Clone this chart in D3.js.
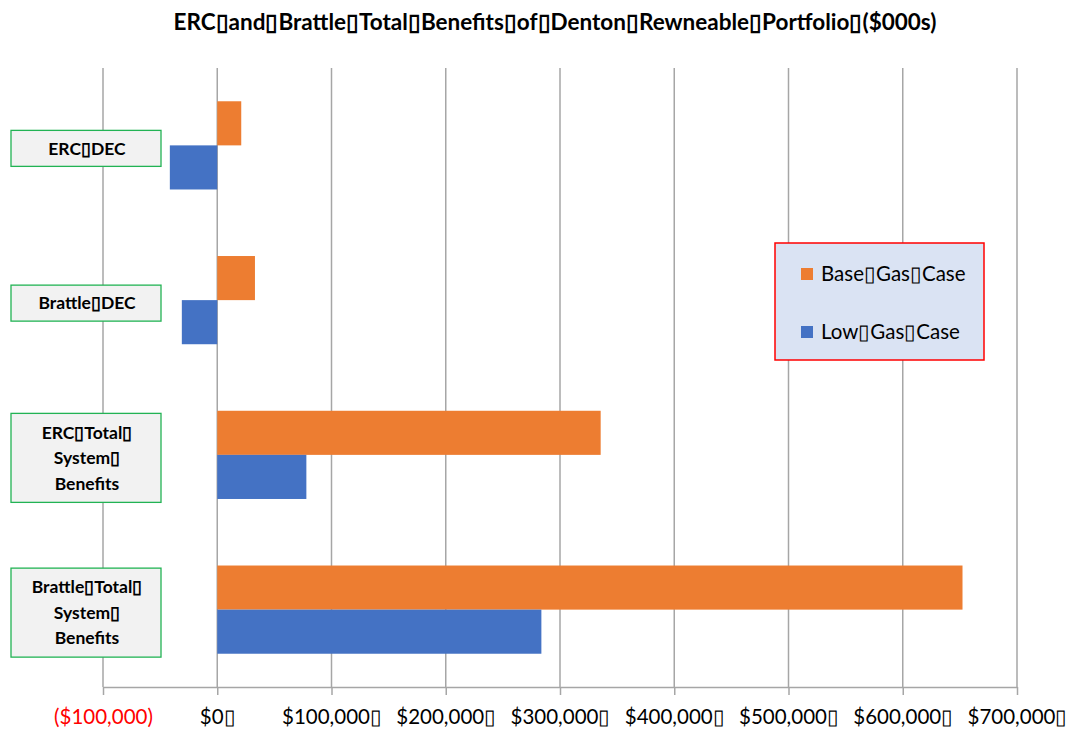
<!DOCTYPE html>
<html>
<head>
<meta charset="utf-8">
<script src="https://cdn.jsdelivr.net/npm/d3@7"></script>
<style>
  body { margin: 0; background: #fff; }
  svg { font-family: Lato, "Open Sans", sans-serif; }
</style>
</head>
<body>
<svg width="1075" height="731"></svg>
<script>
const B = "\u25AF"; // missing-glyph box seen in the original text

// categories, top to bottom (each label split into its lines)
const categories = ["ERC DEC", "Brattle DEC", "ERC Total", "Brattle Total"];
const categoryLines = [
  ["ERC" + B + "DEC"],
  ["Brattle" + B + "DEC"],
  ["ERC" + B + "Total" + B, "System" + B, "Benefits"],
  ["Brattle" + B + "Total" + B, "System" + B, "Benefits"]
];
const series = ["Base", "Low"];
const seriesNames = ["Base" + B + "Gas" + B + "Case", "Low" + B + "Gas" + B + "Case"];
const baseGas = [21000, 33000, 335600, 652300];
const lowGas = [-41500, -31000, 78000, 283700];
const tickValues = [-100000, 0, 100000, 200000, 300000, 400000, 500000, 600000, 700000];
const tickLabels = ["($100,000)", "$0" + B, "$100,000" + B, "$200,000" + B, "$300,000" + B,
  "$400,000" + B, "$500,000" + B, "$600,000" + B, "$700,000" + B];
const title = "ERC" + B + "and" + B + "Brattle" + B + "Total" + B + "Benefits" + B + "of" + B +
  "Denton" + B + "Rewneable" + B + "Portfolio" + B + "($000s)";

const colors = { Base: "#ed7d31", Low: "#4472c4" };

const svg = d3.select("svg");
const plot = { left: 103, right: 1017, top: 68, bottom: 687 };

const x = d3.scaleLinear().domain([-100000, 700000]).range([plot.left, plot.right]);
const y = d3.scaleBand().domain(categories).range([plot.top, plot.bottom])
  .paddingInner(0.43).paddingOuter(0.215);
const ySub = d3.scaleBand().domain(series).range([0, y.bandwidth()]);

// gridlines
svg.append("g")
  .selectAll("line")
  .data(tickValues)
  .join("line")
  .attr("x1", d => x(d)).attr("x2", d => x(d))
  .attr("y1", plot.top).attr("y2", plot.bottom)
  .attr("stroke", "#a6a6a6")
  .attr("stroke-width", 1.5);

// bottom axis
const axis = svg.append("g")
  .attr("transform", `translate(0,${plot.bottom})`)
  .call(d3.axisBottom(x).tickValues(tickValues).tickSize(8).tickSizeOuter(0)
    .tickFormat((d, i) => tickLabels[i]));
axis.select(".domain").attr("stroke", "#a6a6a6").attr("stroke-width", 1.5);
axis.selectAll(".tick line").attr("stroke", "#a6a6a6").attr("stroke-width", 1.5);
axis.selectAll(".tick text")
  .attr("y", 37)
  .attr("dy", 0)
  .attr("font-size", 20.5)
  .attr("font-family", "Lato, sans-serif")
  .attr("fill", d => d < 0 ? "#ff0000" : "#000");

// bars
const rows = categories.map((c, i) => ({ cat: c, Base: baseGas[i], Low: lowGas[i] }));
const groups = svg.append("g")
  .selectAll("g")
  .data(rows)
  .join("g")
  .attr("transform", d => `translate(0,${y(d.cat)})`);

groups.selectAll("rect")
  .data(d => series.map(s => ({ s, v: d[s] })))
  .join("rect")
  .attr("x", d => x(Math.min(0, d.v)))
  .attr("width", d => Math.abs(x(d.v) - x(0)))
  .attr("y", d => ySub(d.s))
  .attr("height", ySub.bandwidth())
  .attr("fill", d => colors[d.s]);

// category label boxes
const lineH = 25.5;
const labels = svg.append("g")
  .selectAll("g")
  .data(categories)
  .join("g")
  .attr("transform", (d, i) => `translate(11,${y(d) + y.bandwidth() / 2 + 3})`);

labels.append("rect")
  .attr("x", 0)
  .attr("width", 150)
  .attr("y", (d, i) => -(categoryLines[i].length === 1 ? 18 : 44.5))
  .attr("height", (d, i) => categoryLines[i].length === 1 ? 36 : 89)
  .attr("fill", "#f2f2f2")
  .attr("stroke", "#22b354")
  .attr("stroke-width", 1.3);

labels.append("text")
  .attr("text-anchor", "middle")
  .attr("font-weight", "bold")
  .attr("font-size", 17.5)
  .selectAll("tspan")
  .data((d, i) => categoryLines[i].map((t, j, a) => ({ t, j, n: a.length })))
  .join("tspan")
  .attr("x", 76)
  .attr("y", d => (d.j - (d.n - 1) / 2) * lineH)
  .attr("dy", "0.35em")
  .text(d => d.t);

// legend
const legend = svg.append("g").attr("transform", "translate(775,243)");
legend.append("rect")
  .attr("width", 209).attr("height", 117)
  .attr("fill", "#dae3f3")
  .attr("stroke", "#ff0000")
  .attr("stroke-width", 1.5);
const items = legend.selectAll("g.item")
  .data(series)
  .join("g")
  .attr("class", "item")
  .attr("transform", (d, i) => `translate(26,${31 + i * 58})`);
items.append("rect")
  .attr("x", 0).attr("y", -6).attr("width", 12).attr("height", 12)
  .attr("fill", d => colors[d]);
items.append("text")
  .attr("x", 20)
  .attr("dy", "0.35em")
  .attr("font-size", 20.5)
  .text((d, i) => seriesNames[i]);

// title
svg.append("text")
  .attr("x", 555)
  .attr("y", 22)
  .attr("dy", "0.35em")
  .attr("text-anchor", "middle")
  .attr("font-weight", "bold")
  .attr("font-size", 22.5)
  .text(title);
</script>
</body>
</html>
